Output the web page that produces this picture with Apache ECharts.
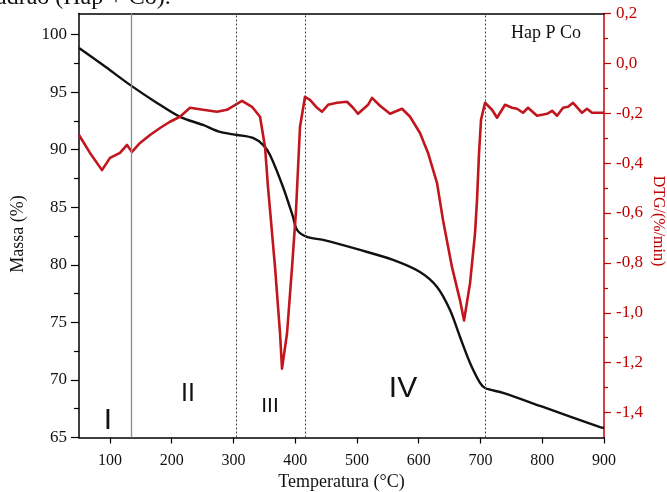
<!DOCTYPE html>
<html>
<head>
<meta charset="utf-8">
<script src="https://cdn.jsdelivr.net/npm/echarts@6/dist/echarts.min.js"></script>
<style>
  html, body { margin: 0; padding: 0; background: #fff; }
  #chart { width: 667px; height: 492px; }
</style>
</head>
<body>
<div id="chart"></div>
<script>
// TG curve: temperature (°C) and remaining mass (%)
const massTemp = [50, 88.9, 132.6, 176.3, 213.5, 250.8, 278.3, 305.8, 331.7, 347.9, 359.3, 380.3, 396.5, 403,
  419.2, 445.1, 505, 558.4, 602.1, 629.7, 650.7, 666.9, 683.1, 699.3, 707.4, 736.5, 801.3, 893.6, 900];
const massPct = [98.84, 97.36, 95.63, 94.06, 92.85, 92.15, 91.54, 91.28, 91.02, 90.41, 89.54, 86.76, 84.16, 83.03,
  82.42, 82.16, 81.29, 80.43, 79.38, 78.08, 76.08, 73.73, 71.47, 69.74, 69.30, 68.87, 67.65, 65.91, 65.83];

// DTG curve: temperature (°C) and derivative (%/min)
const dtgTemp = [50, 67.8, 87.2, 100.2, 116.4, 127.7, 135.8, 148.8, 165, 181.2, 197.3, 213.5, 229.7, 250.8,
  273.4, 289.6, 313.9, 330.1, 343.1, 351.2, 356, 359.3, 367.4, 375.5, 378.7, 386.8, 394.9, 401.4, 407.8,
  415.9, 424, 435.4, 443.5, 453.2, 467.7, 483.9, 493.7, 501.7, 518, 524.4, 537.4, 553.6, 573, 586, 602.1,
  615.1, 629.7, 639.4, 654, 666.9, 673.4, 683.1, 691.2, 694.4, 697.7, 700.9, 707.4, 718.7, 726.8, 739.8,
  751.1, 759.2, 768.9, 777, 791.6, 807.8, 815.9, 824, 833.7, 841.8, 849.9, 864.4, 872.5, 880.6, 896.8, 900];
const dtgVal = [-0.287, -0.359, -0.428, -0.379, -0.359, -0.327, -0.355, -0.319, -0.287, -0.259, -0.234, -0.214,
  -0.178, -0.186, -0.194, -0.186, -0.150, -0.174, -0.214, -0.335, -0.496, -0.588, -0.818, -1.083, -1.224,
  -1.083, -0.818, -0.588, -0.255, -0.134, -0.146, -0.178, -0.194, -0.166, -0.158, -0.154, -0.178, -0.202,
  -0.166, -0.138, -0.170, -0.202, -0.182, -0.214, -0.279, -0.359, -0.480, -0.629, -0.818, -0.950, -1.031,
  -0.882, -0.681, -0.548, -0.359, -0.226, -0.158, -0.186, -0.218, -0.166, -0.178, -0.182, -0.198, -0.178,
  -0.210, -0.202, -0.190, -0.210, -0.178, -0.174, -0.158, -0.198, -0.182, -0.198, -0.198, -0.198];

// Stage boundaries (°C)
const stageBounds = [134, 305, 417, 707];
const stageNames = ['I', 'II', 'III', 'IV'];

// Tick values
const tempTicks = [100, 200, 300, 400, 500, 600, 700, 800, 900];
const massTicks = [65, 70, 75, 80, 85, 90, 95, 100];
const dtgTicks = [-1.4, -1.2, -1.0, -0.8, -0.6, -0.4, -0.2, 0.0, 0.2];
const massMinor = [67.5, 72.5, 77.5, 82.5, 87.5, 92.5, 97.5];
const dtgMinor = [-1.3, -1.1, -0.9, -0.7, -0.5, -0.3, -0.1, 0.1];

const sampleName = 'Hap P Co';
const captionTail = 'adrão (Hap + Co).';
const massTitle = 'Massa (%)';
const dtgTitle = 'DTG/(%/min)';
const tempTitle = 'Temperatura (°C)';

const SERIF = "'Liberation Serif', 'Times New Roman', serif";
const SANS = "'Liberation Sans', Arial, sans-serif";
const RED = '#c00000';

const chart = echarts.init(document.getElementById('chart'), null, { renderer: 'canvas' });

const massMin = 65, massMax = 101.83;
const dtgMin = -1.5, dtgMax = 0.2;

function pairs(xs, ys) { return xs.map((x, i) => [x, ys[i]]); }

const option = {
  animation: false,
  backgroundColor: '#fff',
  grid: { left: 79, right: 63, top: 13.5, bottom: 54.5, outerBoundsMode: 'none', containLabel: false },
  xAxis: [
    {
      type: 'value', min: 50, max: 900, position: 'bottom',
      axisLine: { onZero: false, lineStyle: { color: '#000', width: 1.5 } },
      axisTick: { show: true, customValues: tempTicks, length: 6, lineStyle: { color: '#000', width: 1.2 } },
      axisLabel: { customValues: tempTicks, color: '#111', fontFamily: SERIF, fontSize: 16, margin: 15 },
      splitLine: { show: false },
      name: tempTitle, nameLocation: 'middle', nameGap: 36,
      nameTextStyle: { color: '#111', fontFamily: SERIF, fontSize: 18 }
    },
    {
      type: 'value', min: 50, max: 900, position: 'top',
      axisLine: { show: true, onZero: false, lineStyle: { color: '#000', width: 1.5 } },
      axisTick: { show: false }, axisLabel: { show: false }, splitLine: { show: false }
    }
  ],
  yAxis: [
    {
      type: 'value', min: massMin, max: massMax, position: 'left',
      axisLine: { show: true, onZero: false, lineStyle: { color: '#000', width: 1.5 } },
      axisTick: { show: true, customValues: massTicks, length: 8, lineStyle: { color: '#000', width: 1.2 } },
      axisLabel: { customValues: massTicks, color: '#111', fontFamily: SERIF, fontSize: 17, margin: 12 },
      splitLine: { show: false }
    },
    {
      type: 'value', min: dtgMin, max: dtgMax, position: 'right',
      axisLine: { show: true, onZero: false, lineStyle: { color: RED, width: 1.5 } },
      axisTick: { show: true, customValues: dtgTicks, length: 7, lineStyle: { color: RED, width: 1.2 } },
      axisLabel: {
        customValues: dtgTicks, color: RED, fontFamily: SERIF, fontSize: 17, margin: 12,
        formatter: v => v.toFixed(1).replace('.', ',')
      },
      splitLine: { show: false }
    },
    {
      type: 'value', min: massMin, max: massMax, position: 'left',
      axisLine: { show: false, onZero: false },
      axisTick: { show: true, customValues: massMinor, length: 5, lineStyle: { color: '#000', width: 1.2 } },
      axisLabel: { show: false }, splitLine: { show: false }
    },
    {
      type: 'value', min: dtgMin, max: dtgMax, position: 'right',
      axisLine: { show: false, onZero: false },
      axisTick: { show: true, customValues: dtgMinor, length: 4, lineStyle: { color: RED, width: 1.2 } },
      axisLabel: { show: false }, splitLine: { show: false }
    }
  ],
  series: [
    {
      name: 'Massa', type: 'line', xAxisIndex: 0, yAxisIndex: 0,
      data: pairs(massTemp, massPct),
      showSymbol: false, smooth: 0.3,
      lineStyle: { color: '#111', width: 2.4 },
      markLine: {
        silent: true, symbol: ['none', 'none'], label: { show: false },
        data: stageBounds.map((t, i) => ({
          xAxis: t,
          lineStyle: i === 0
            ? { type: 'solid', color: '#8c8c8c', width: 1.3 }
            : { type: [2, 2], color: '#444', width: 1 }
        }))
      },
      z: 3
    },
    {
      name: 'DTG', type: 'line', xAxisIndex: 0, yAxisIndex: 1,
      data: pairs(dtgTemp, dtgVal),
      showSymbol: false, smooth: false,
      lineStyle: { color: '#c2161e', width: 2.6, join: 'round' },
      z: 4
    }
  ],
  graphic: [
    { type: 'text', left: 511, top: 24, style: { text: sampleName, fill: '#111', font: '18px ' + SERIF } },
    { type: 'text', x: -4, y: -2, style: { text: captionTail, fill: '#111', font: '24px ' + SERIF, verticalAlign: 'middle' } },
    { type: 'text', x: 18, y: 234, rotation: Math.PI / 2, style: { text: massTitle, fill: '#111', font: '18px ' + SERIF, align: 'center', verticalAlign: 'middle' } },
    { type: 'text', x: 658, y: 221, rotation: -Math.PI / 2, style: { text: dtgTitle, fill: RED, font: '16px ' + SERIF, align: 'center', verticalAlign: 'middle' } },
    { type: 'text', x: 108, y: 421, style: { text: stageNames[0], fill: '#111', font: '30px ' + SANS, align: 'center', verticalAlign: 'middle' } },
    { type: 'text', x: 188, y: 394, style: { text: stageNames[1], fill: '#111', font: '25px ' + SANS, align: 'center', verticalAlign: 'middle' } },
    { type: 'text', x: 270, y: 406, style: { text: stageNames[2], fill: '#111', font: '21px ' + SANS, align: 'center', verticalAlign: 'middle' } },
    { type: 'text', x: 403, y: 389, style: { text: stageNames[3], fill: '#111', font: '30px ' + SANS, align: 'center', verticalAlign: 'middle' } }
  ]
};

chart.setOption(option);
</script>
</body>
</html>
